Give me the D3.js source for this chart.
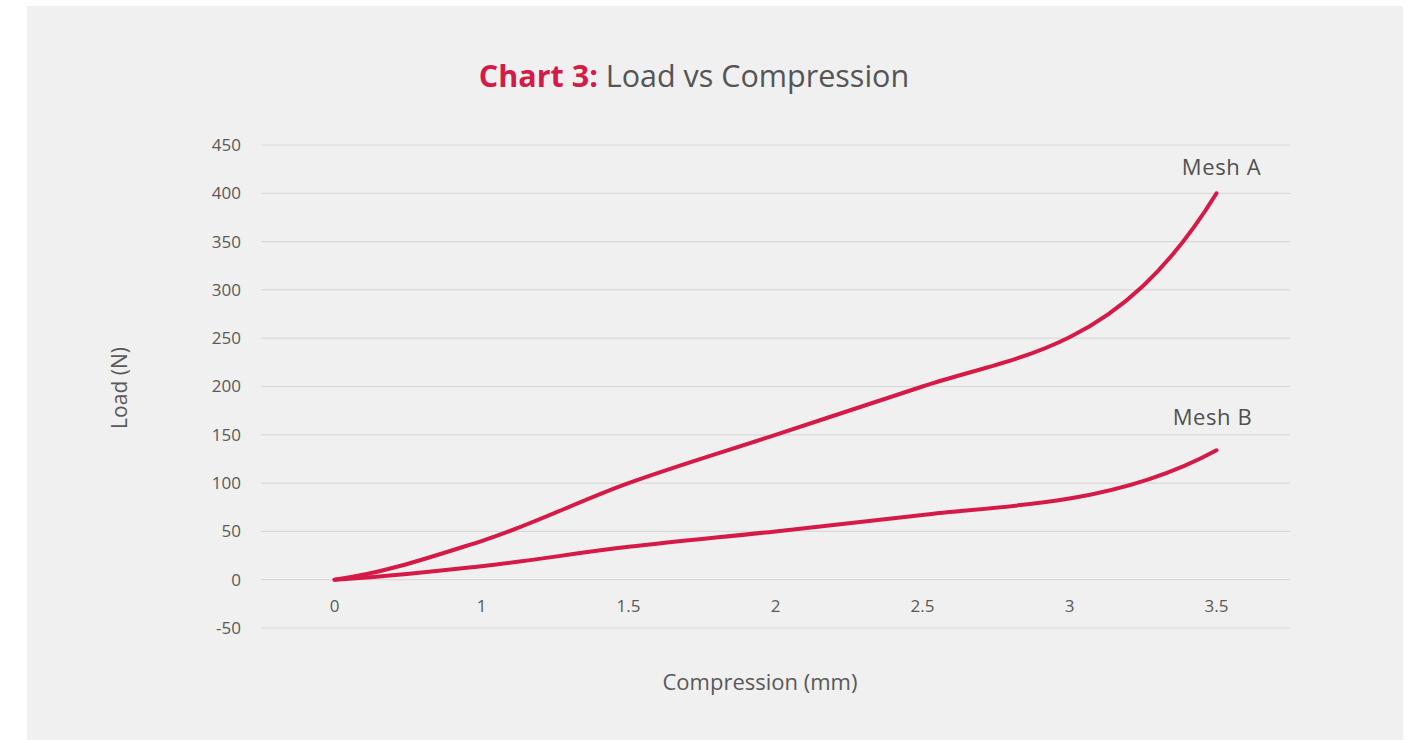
<!DOCTYPE html>
<html>
<head>
<meta charset="utf-8">
<script src="https://cdn.jsdelivr.net/npm/d3@7"></script>
<style>
  body { margin: 0; background: #ffffff; }
  svg text { font-family: "Open Sans", "DejaVu Sans", sans-serif; }
</style>
</head>
<body>
<div id="chart_container"></div>
<script>
// chart data
const categories = ["0", "1", "1.5", "2", "2.5", "3", "3.5"];
const meshA = [0, 40, 100, 150, 200, 251, 400];
const meshB = [0, 14, 34, 50, 67, 84, 134];
const yTicks = [-50, 0, 50, 100, 150, 200, 250, 300, 350, 400, 450];

const width = 1413, height = 740;
const lineColor = "#d61a48";
const textColor = "#595959";

// smooth curve: harmonic-mean tangents inside, extrapolated tangents at the ends
function SmoothCurve(context) {
    let pts = [];
    return {
        areaStart() {}, areaEnd() {},
        lineStart() { pts = []; },
        point(px, py) { pts.push([+px, +py]); },
        lineEnd() {
            const n = pts.length;
            if (n === 0) return;
            context.moveTo(pts[0][0], pts[0][1]);
            if (n === 1) return;
            const s = [];
            for (let i = 0; i < n - 1; i++) {
                s.push((pts[i + 1][1] - pts[i][1]) / (pts[i + 1][0] - pts[i][0]));
            }
            const m = new Array(n);
            for (let i = 1; i < n - 1; i++) {
                m[i] = s[i - 1] * s[i] <= 0 ? 0 : 2 * s[i - 1] * s[i] / (s[i - 1] + s[i]);
            }
            m[0] = n > 2 ? 2 * s[0] - s[1] : s[0];
            m[n - 1] = n > 2 ? 2 * s[n - 2] - s[n - 3] : s[0];
            for (let i = 0; i < n - 1; i++) {
                const h = (pts[i + 1][0] - pts[i][0]) / 3;
                context.bezierCurveTo(
                    pts[i][0] + h, pts[i][1] + m[i] * h,
                    pts[i + 1][0] - h, pts[i + 1][1] - m[i + 1] * h,
                    pts[i + 1][0], pts[i + 1][1]);
            }
        }
    };
}

var svg = d3.select("#chart_container")
    .append("svg")
    .attr("width", width)
    .attr("height", height);

// grey panel
svg.append("rect")
    .attr("x", 27).attr("y", 6)
    .attr("width", 1376).attr("height", 734)
    .attr("fill", "#f0f0f0");

// scales
var x = d3.scaleBand()
    .domain(categories)
    .range([261, 1290])
    .padding(0);

var y = d3.scaleLinear()
    .domain([-50, 450])
    .range([628, 145]);

// gridlines
svg.append("g")
    .selectAll("line")
    .data(yTicks)
    .enter()
    .append("line")
    .attr("x1", 261).attr("x2", 1290)
    .attr("y1", d => y(d)).attr("y2", d => y(d))
    .attr("stroke", "#d9d9d9")
    .attr("stroke-width", 1.2);

// y tick labels
svg.append("g")
    .selectAll("text")
    .data(yTicks)
    .enter()
    .append("text")
    .attr("x", 241)
    .attr("y", d => y(d))
    .attr("dy", "0.35em")
    .attr("text-anchor", "end")
    .attr("font-size", 17)
    .attr("fill", textColor)
    .text(d => d);

// x tick labels
svg.append("g")
    .selectAll("text")
    .data(categories)
    .enter()
    .append("text")
    .attr("x", d => x(d) + x.bandwidth() / 2)
    .attr("y", 612)
    .attr("text-anchor", "middle")
    .attr("font-size", 17)
    .attr("fill", textColor)
    .text(d => d);

// lines
var line = d3.line()
    .x((d, i) => x(categories[i]) + x.bandwidth() / 2)
    .y(d => y(d))
    .curve(SmoothCurve);

[meshA, meshB].forEach(series => {
    svg.append("path")
        .datum(series)
        .attr("d", line)
        .attr("fill", "none")
        .attr("stroke", lineColor)
        .attr("stroke-width", 4)
        .attr("stroke-linecap", "round");
});

// series labels
var last = categories[categories.length - 1];
svg.append("text")
    .attr("x", x(last) + x.bandwidth() / 2 + 5)
    .attr("y", y(meshA[meshA.length - 1]) - 18)
    .attr("text-anchor", "middle")
    .attr("font-size", 22)
    .attr("letter-spacing", 0.6)
    .attr("fill", "#505050")
    .text("Mesh A");

svg.append("text")
    .attr("x", x(last) + x.bandwidth() / 2 - 4)
    .attr("y", y(meshB[meshB.length - 1]) - 25)
    .attr("text-anchor", "middle")
    .attr("font-size", 22)
    .attr("letter-spacing", 0.6)
    .attr("fill", "#505050")
    .text("Mesh B");

// axis titles
svg.append("text")
    .attr("transform", "translate(127,388) rotate(-90)")
    .attr("text-anchor", "middle")
    .attr("font-size", 21)
    .attr("fill", textColor)
    .text("Load (N)");

svg.append("text")
    .attr("x", 760)
    .attr("y", 690)
    .attr("text-anchor", "middle")
    .attr("font-size", 22)
    .attr("fill", textColor)
    .text("Compression (mm)");

// title
var title = svg.append("text")
    .attr("x", 694)
    .attr("y", 87)
    .attr("text-anchor", "middle")
    .attr("font-size", 30.5);
title.append("tspan")
    .attr("fill", lineColor)
    .attr("font-weight", "bold")
    .text("Chart 3:");
title.append("tspan")
    .attr("fill", "#555555")
    .text(" Load vs Compression");
</script>
</body>
</html>
